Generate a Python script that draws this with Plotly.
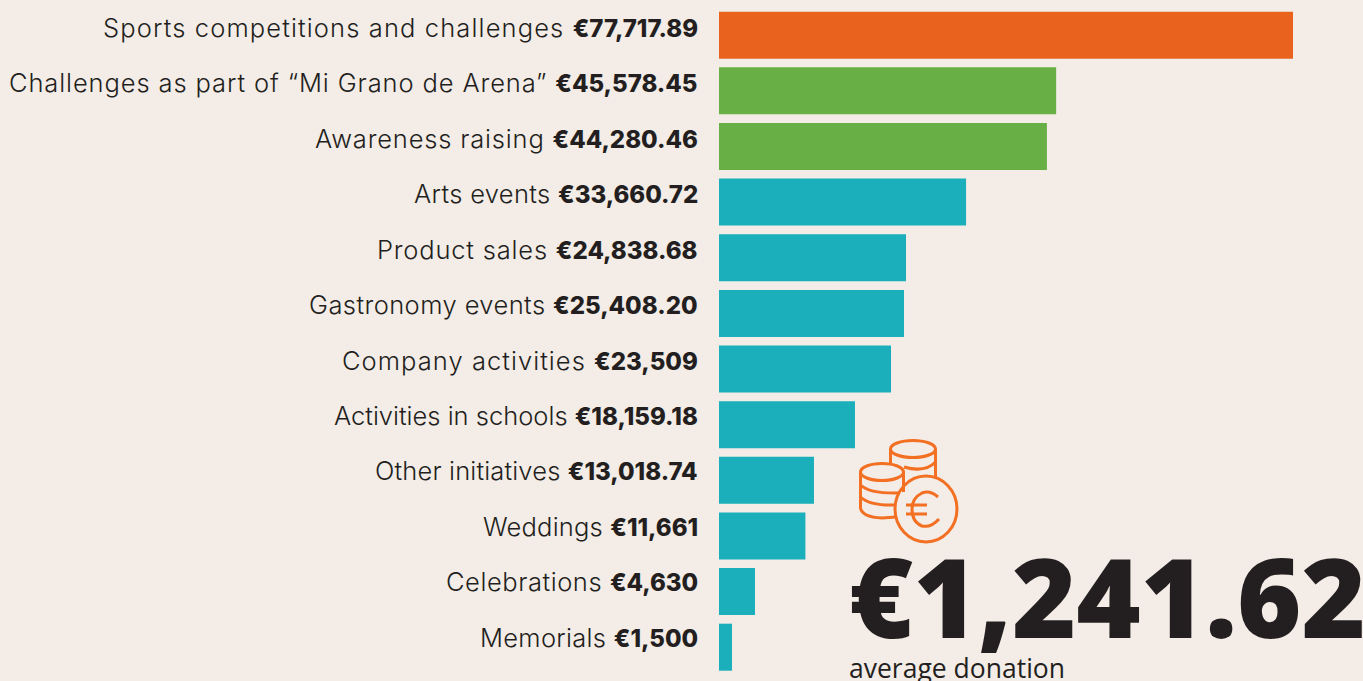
import plotly.graph_objects as go

W, H = 1363, 681

categories = ["Sports competitions and challenges", "Challenges as part of “Mi Grano de Arena”",
              "Awareness raising", "Arts events", "Product sales", "Gastronomy events",
              "Company activities", "Activities in schools", "Other initiatives",
              "Weddings", "Celebrations", "Memorials"]
value_labels = ["€77,717.89", "€45,578.45", "€44,280.46", "€33,660.72", "€24,838.68", "€25,408.20",
                "€23,509", "€18,159.18", "€13,018.74", "€11,661", "€4,630", "€1,500"]
# Bar lengths as drawn in the picture (they differ slightly from the printed labels)
bar_values = [77717.89, 45650, 44400, 33450, 25320, 25050, 23290, 18410, 12860, 11700, 4870, 1760]
bar_colors = ["#E9631E", "#68B045", "#68B045"] + ["#1AAFBA"] * 9
total_label = "€1,241.62"
total_caption = "average donation"

BG = "#F3ECE7"
INK = "#231F20"
ICON = "#F36F21"
LABEL_FONT = "Inter"
# Per-row tracking so the substitute font fills the same width as the original typeface
tracking = [1.13, 0.89, 0.82, 0.35, 0.81, 0.43, 1.05, 0.0, 0.16, 0.2, 0.56, 0.3]

def px(x): return x / W
def py(y): return 1 - y / H
def P(x, y): return f"{px(x):.5f} {py(y):.5f}"

fig = go.Figure(go.Bar(x=bar_values, y=categories, orientation="h",
                       marker=dict(color=bar_colors, line_width=0), width=0.845, hoverinfo="skip"))

annotations = []
for i, (c, v, t) in enumerate(zip(categories, value_labels, tracking)):
    annotations.append(dict(
        xref="paper", yref="y", x=px(699.5), y=c, xanchor="right", yanchor="middle",
        yshift=7.7 + 2.4 * i / 11, showarrow=False, align="right",
        text=(f"<span style=\"letter-spacing:{t}px\">{c} </span>"
              f"<span style=\"font-weight:800;font-size:24px\">{v}</span>"),
        font=dict(family=LABEL_FONT, size=25.5, color=INK, weight=300)))
annotations.append(dict(xref="paper", yref="paper", x=px(847), y=py(594.5), xanchor="left", yanchor="middle",
                        showarrow=False, text=total_label,
                        font=dict(family="Open Sans", size=110, color=INK, weight=800)))
annotations.append(dict(xref="paper", yref="paper", x=px(847), y=py(668), xanchor="left", yanchor="middle",
                        showarrow=False, text=total_caption,
                        font=dict(family="Open Sans", size=26.5, color=INK)))

def ell(cx, cy, rx, ry):
    k = 0.5523
    return (f"M {P(cx-rx,cy)} C {P(cx-rx,cy-k*ry)} {P(cx-k*rx,cy-ry)} {P(cx,cy-ry)} "
            f"C {P(cx+k*rx,cy-ry)} {P(cx+rx,cy-k*ry)} {P(cx+rx,cy)} "
            f"C {P(cx+rx,cy+k*ry)} {P(cx+k*rx,cy+ry)} {P(cx,cy+ry)} "
            f"C {P(cx-k*rx,cy+ry)} {P(cx-rx,cy+k*ry)} {P(cx-rx,cy)} Z")

icon_paths = [
    ell(913, 449, 22.5, 8.5),
    f"M {P(890.5,449)} L {P(890.5,464)}", f"M {P(935.5,449)} L {P(935.5,478)}",
    f"M {P(904,467)} Q {P(925,473)} {P(935.5,462)}",
    ell(882, 472, 21.5, 8.5),
    f"M {P(860.5,472)} L {P(860.5,508)} Q {P(862,517)} {P(882,518)} L {P(896,517)}",
    f"M {P(903.5,472)} L {P(903.5,492)}",
    f"M {P(860.5,485)} Q {P(870,494)} {P(900,493)}",
    f"M {P(860.5,497)} Q {P(870,506)} {P(896,505)}",
    ell(926, 509, 31, 33),
    f"M {P(938,497)} Q {P(930,490)} {P(922,493)} Q {P(912,498)} {P(912,509)} Q {P(912,522)} {P(922,526)} Q {P(931,528)} {P(939,519)}",
    f"M {P(906,505)} L {P(927,505)}", f"M {P(906,514)} L {P(927,514)}",
]
shapes = [dict(type="path", xref="paper", yref="paper", path=p,
               line=dict(color=ICON, width=3), layer="above") for p in icon_paths]

fig.update_layout(
    width=W, height=H, autosize=False, margin=dict(l=0, r=0, t=0, b=0),
    paper_bgcolor=BG, plot_bgcolor=BG, showlegend=False,
    xaxis=dict(domain=[px(719), px(1293)], range=[0, 77717.89], visible=False, fixedrange=True),
    yaxis=dict(domain=[py(675.0), py(7.4)], categoryorder="array", categoryarray=categories[::-1],
               visible=False, fixedrange=True),
    annotations=annotations, shapes=shapes,
)
fig.write_html("out.html", config={"displayModeBar": False},
               post_script="document.body.style.margin='0';document.documentElement.style.background='" + BG + "';")
